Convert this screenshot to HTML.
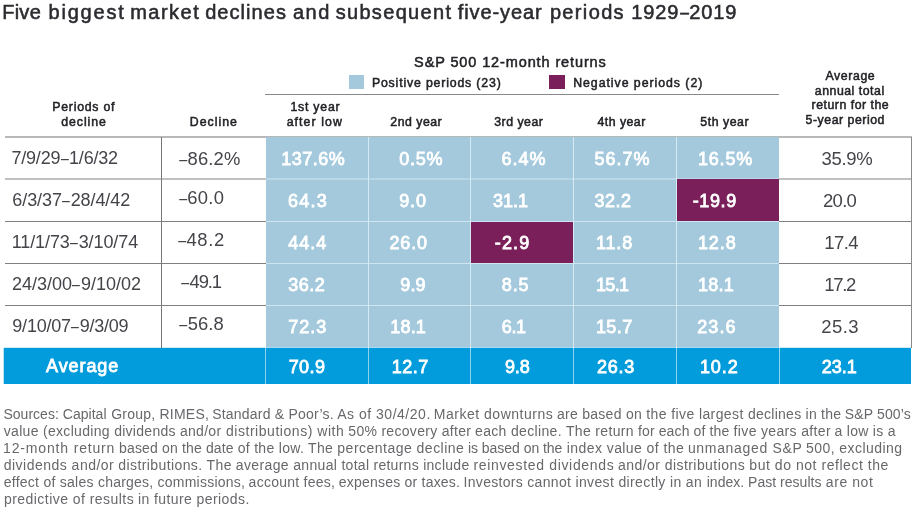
<!DOCTYPE html>
<html lang="en"><head><meta charset='utf-8'><title>Five biggest market declines</title><style>
html,body{margin:0;padding:0;background:#fff;}
body{width:916px;height:510px;position:relative;overflow:hidden;font-family:"Liberation Sans", sans-serif;}
.t{position:absolute;white-space:nowrap;line-height:1;}
.b{position:absolute;}
#page{position:absolute;left:0;top:0;width:916px;height:510px;will-change:transform;}
.d{display:inline-block;transform:scaleX(0.78);letter-spacing:0;margin:0 -0.6px;}
</style></head><body><div id="page">
<div class="b" style="left:5px;top:136px;width:907.00px;height:2.00px;background:#b9b9b9"></div>
<div class="b" style="left:266px;top:137px;width:513.00px;height:211.00px;background:#a4c9dc"></div>
<div class="b" style="left:5px;top:178px;width:261.00px;height:2.00px;background:#c0c0c0"></div>
<div class="b" style="left:779px;top:178px;width:133.00px;height:2.00px;background:#c0c0c0"></div>
<div class="b" style="left:266px;top:178px;width:513.00px;height:2.00px;background:#b9d8e7"></div>
<div class="b" style="left:5px;top:221px;width:261.00px;height:1.00px;background:#808080"></div>
<div class="b" style="left:779px;top:221px;width:133.00px;height:1.00px;background:#808080"></div>
<div class="b" style="left:266px;top:221px;width:513.00px;height:1.00px;background:#cfe6f1"></div>
<div class="b" style="left:5px;top:263px;width:261.00px;height:1.00px;background:#808080"></div>
<div class="b" style="left:779px;top:263px;width:133.00px;height:1.00px;background:#808080"></div>
<div class="b" style="left:266px;top:263px;width:513.00px;height:1.00px;background:#cfe6f1"></div>
<div class="b" style="left:5px;top:305px;width:261.00px;height:1.00px;background:#808080"></div>
<div class="b" style="left:779px;top:305px;width:133.00px;height:1.00px;background:#808080"></div>
<div class="b" style="left:266px;top:305px;width:513.00px;height:1.00px;background:#cfe6f1"></div>
<div class="b" style="left:471px;top:222px;width:102.00px;height:41.00px;background:#7a1f5a"></div>
<div class="b" style="left:677px;top:179px;width:102.00px;height:42.00px;background:#7a1f5a"></div>
<div class="b" style="left:4px;top:347px;width:262.00px;height:1.00px;background:#cdebf8"></div>
<div class="b" style="left:779px;top:347px;width:132.00px;height:1.00px;background:#cdebf8"></div>
<div class="b" style="left:266px;top:347px;width:513.00px;height:1.00px;background:#a6dbf3"></div>
<div class="b" style="left:3px;top:348px;width:908.00px;height:36.00px;background:#029cdc"></div>
<div class="b" style="left:3px;top:348px;width:1.00px;height:36.00px;background:#b3e1f5"></div>
<div class="b" style="left:368px;top:137px;width:1.00px;height:211.00px;background:#d6eaf3"></div>
<div class="b" style="left:368px;top:348px;width:1.00px;height:36.00px;background:#8fd3f0"></div>
<div class="b" style="left:470px;top:137px;width:1.00px;height:211.00px;background:#d6eaf3"></div>
<div class="b" style="left:470px;top:348px;width:1.00px;height:36.00px;background:#8fd3f0"></div>
<div class="b" style="left:573px;top:137px;width:1.00px;height:211.00px;background:#d6eaf3"></div>
<div class="b" style="left:573px;top:348px;width:1.00px;height:36.00px;background:#8fd3f0"></div>
<div class="b" style="left:676px;top:137px;width:1.00px;height:211.00px;background:#d6eaf3"></div>
<div class="b" style="left:676px;top:348px;width:1.00px;height:36.00px;background:#8fd3f0"></div>
<div class="b" style="left:265px;top:348px;width:1.00px;height:36.00px;background:#8fd3f0"></div>
<div class="b" style="left:779px;top:348px;width:1.00px;height:36.00px;background:#8fd3f0"></div>
<div class="b" style="left:161px;top:137px;width:1.00px;height:211.00px;background:#777777"></div>
<div class="b" style="left:911px;top:137px;width:1.00px;height:211.00px;background:#888888"></div>
<div class="b" style="left:265px;top:94px;width:514.00px;height:1.00px;background:#888888"></div>
<div class="b" style="left:349px;top:75px;width:15.00px;height:14.00px;background:#a4c9dc"></div>
<div class="b" style="left:549px;top:75px;width:16.00px;height:14.00px;background:#7a1f5a"></div>
<span class="t" style="font-size:20px;font-weight:normal;color:#2b2b30;letter-spacing:0.275px;-webkit-text-stroke:0.55px #2b2b30;left:2.16px;top:2.00px;">Five</span>
<span class="t" style="font-size:20px;font-weight:normal;color:#2b2b30;letter-spacing:1.814px;-webkit-text-stroke:0.55px #2b2b30;left:48.46px;top:2.00px;">biggest</span>
<span class="t" style="font-size:20px;font-weight:normal;color:#2b2b30;letter-spacing:1.481px;-webkit-text-stroke:0.55px #2b2b30;left:130.21px;top:2.00px;">market</span>
<span class="t" style="font-size:20px;font-weight:normal;color:#2b2b30;letter-spacing:1.060px;-webkit-text-stroke:0.55px #2b2b30;left:205.17px;top:2.00px;">declines</span>
<span class="t" style="font-size:20px;font-weight:normal;color:#2b2b30;letter-spacing:1.548px;-webkit-text-stroke:0.55px #2b2b30;left:292.93px;top:2.00px;">and</span>
<span class="t" style="font-size:20px;font-weight:normal;color:#2b2b30;letter-spacing:1.328px;-webkit-text-stroke:0.55px #2b2b30;left:335.65px;top:2.00px;">subsequent</span>
<span class="t" style="font-size:20px;font-weight:normal;color:#2b2b30;letter-spacing:0.900px;-webkit-text-stroke:0.55px #2b2b30;left:457.81px;top:2.00px;">five-year</span>
<span class="t" style="font-size:20px;font-weight:normal;color:#2b2b30;letter-spacing:1.359px;-webkit-text-stroke:0.55px #2b2b30;left:549.89px;top:2.00px;">periods</span>
<span class="t" style="font-size:20px;font-weight:normal;color:#2b2b30;letter-spacing:0.898px;-webkit-text-stroke:0.55px #2b2b30;left:631.17px;top:2.00px;">1929<span class="d">–</span>2019</span>
<span class="t" style="font-size:14.5px;font-weight:normal;color:#222227;letter-spacing:0.882px;-webkit-text-stroke:0.5px #222227;left:414.12px;top:55.00px;">S&amp;P 500 12-month returns</span>
<span class="t" style="font-size:12.3px;font-weight:normal;color:#222227;letter-spacing:0.838px;-webkit-text-stroke:0.5px #222227;left:371.90px;top:77.00px;">Positive periods (23)</span>
<span class="t" style="font-size:12.3px;font-weight:normal;color:#222227;letter-spacing:0.967px;-webkit-text-stroke:0.5px #222227;left:573.23px;top:77.00px;">Negative periods (2)</span>
<span class="t" style="font-size:12.3px;font-weight:normal;color:#222227;letter-spacing:0.757px;-webkit-text-stroke:0.5px #222227;left:52.27px;top:101.00px;">Periods of</span>
<span class="t" style="font-size:12.3px;font-weight:normal;color:#222227;letter-spacing:0.953px;-webkit-text-stroke:0.5px #222227;left:61.24px;top:116.00px;">decline</span>
<span class="t" style="font-size:12.3px;font-weight:normal;color:#222227;letter-spacing:1.020px;-webkit-text-stroke:0.5px #222227;left:189.84px;top:116.00px;">Decline</span>
<span class="t" style="font-size:12.3px;font-weight:normal;color:#222227;letter-spacing:0.770px;-webkit-text-stroke:0.5px #222227;left:290.46px;top:101.00px;">1st year</span>
<span class="t" style="font-size:12.3px;font-weight:normal;color:#222227;letter-spacing:1.077px;-webkit-text-stroke:0.5px #222227;left:286.70px;top:116.00px;">after low</span>
<span class="t" style="font-size:12.3px;font-weight:normal;color:#222227;letter-spacing:0.497px;-webkit-text-stroke:0.5px #222227;left:390.36px;top:116.00px;">2nd year</span>
<span class="t" style="font-size:12.3px;font-weight:normal;color:#222227;letter-spacing:0.502px;-webkit-text-stroke:0.5px #222227;left:494.27px;top:116.00px;">3rd year</span>
<span class="t" style="font-size:12.3px;font-weight:normal;color:#222227;letter-spacing:0.468px;-webkit-text-stroke:0.5px #222227;left:597.52px;top:116.00px;">4th year</span>
<span class="t" style="font-size:12.3px;font-weight:normal;color:#222227;letter-spacing:0.555px;-webkit-text-stroke:0.5px #222227;left:700.27px;top:116.00px;">5th year</span>
<span class="t" style="font-size:12.3px;font-weight:normal;color:#222227;letter-spacing:0.593px;-webkit-text-stroke:0.5px #222227;left:825.52px;top:70.00px;">Average</span>
<span class="t" style="font-size:12.3px;font-weight:normal;color:#222227;letter-spacing:0.524px;-webkit-text-stroke:0.5px #222227;left:814.81px;top:85.00px;">annual total</span>
<span class="t" style="font-size:12.3px;font-weight:normal;color:#222227;letter-spacing:0.518px;-webkit-text-stroke:0.5px #222227;left:811.54px;top:99.00px;">return for the</span>
<span class="t" style="font-size:12.3px;font-weight:normal;color:#222227;letter-spacing:0.529px;-webkit-text-stroke:0.5px #222227;left:805.61px;top:114.00px;">5-year period</span>
<span class="t" style="font-size:18px;font-weight:normal;color:#44444a;letter-spacing:-0.216px;left:11.51px;top:149.00px;">7/9/29<span class="d">–</span>1/6/32</span>
<span class="t" style="font-size:18px;font-weight:normal;color:#44444a;letter-spacing:-0.085px;left:12.31px;top:191.00px;">6/3/37<span class="d">–</span>28/4/42</span>
<span class="t" style="font-size:18px;font-weight:normal;color:#44444a;letter-spacing:-0.078px;left:11.63px;top:233.00px;">11/1/73<span class="d">–</span>3/10/74</span>
<span class="t" style="font-size:18px;font-weight:normal;color:#44444a;letter-spacing:-0.001px;left:11.99px;top:275.00px;">24/3/00<span class="d">–</span>9/10/02</span>
<span class="t" style="font-size:18px;font-weight:normal;color:#44444a;letter-spacing:-0.220px;left:12.33px;top:317.00px;">9/10/07<span class="d">–</span>9/3/09</span>
<span class="t" style="font-size:18.4px;font-weight:normal;color:#44444a;letter-spacing:0.197px;left:178.42px;top:150.00px;"><span class="d">–</span>86.2%</span>
<span class="t" style="font-size:18.4px;font-weight:normal;color:#44444a;letter-spacing:0.309px;left:178.22px;top:189.00px;"><span class="d">–</span>60.0</span>
<span class="t" style="font-size:18.4px;font-weight:normal;color:#44444a;letter-spacing:0.647px;left:177.42px;top:231.00px;"><span class="d">–</span>48.2</span>
<span class="t" style="font-size:18.4px;font-weight:normal;color:#44444a;letter-spacing:-1.049px;left:180.42px;top:273.00px;"><span class="d">–</span>49.1</span>
<span class="t" style="font-size:18.4px;font-weight:normal;color:#44444a;letter-spacing:-0.014px;left:178.82px;top:315.00px;"><span class="d">–</span>56.8</span>
<span class="t" style="font-size:18px;font-weight:normal;color:#ffffff;letter-spacing:0.457px;-webkit-text-stroke:0.8px #ffffff;left:281.30px;top:150.00px;">137.6%</span>
<span class="t" style="font-size:18px;font-weight:normal;color:#ffffff;letter-spacing:1.259px;-webkit-text-stroke:0.8px #ffffff;left:288.06px;top:192.00px;">64.3</span>
<span class="t" style="font-size:18px;font-weight:normal;color:#ffffff;letter-spacing:1.064px;-webkit-text-stroke:0.8px #ffffff;left:288.17px;top:234.00px;">44.4</span>
<span class="t" style="font-size:18px;font-weight:normal;color:#ffffff;letter-spacing:0.539px;-webkit-text-stroke:0.8px #ffffff;left:288.17px;top:276.00px;">36.2</span>
<span class="t" style="font-size:18px;font-weight:normal;color:#ffffff;letter-spacing:0.947px;-webkit-text-stroke:0.8px #ffffff;left:288.34px;top:318.00px;">72.3</span>
<span class="t" style="font-size:18px;font-weight:normal;color:#ffffff;letter-spacing:0.381px;-webkit-text-stroke:0.8px #ffffff;left:288.73px;top:358.00px;">70.9</span>
<span class="t" style="font-size:18px;font-weight:normal;color:#ffffff;letter-spacing:0.778px;-webkit-text-stroke:0.8px #ffffff;left:399.28px;top:150.00px;">0.5%</span>
<span class="t" style="font-size:18px;font-weight:normal;color:#ffffff;letter-spacing:0.839px;-webkit-text-stroke:0.8px #ffffff;left:399.26px;top:192.00px;">9.0</span>
<span class="t" style="font-size:18px;font-weight:normal;color:#ffffff;letter-spacing:0.867px;-webkit-text-stroke:0.8px #ffffff;left:389.41px;top:234.00px;">26.0</span>
<span class="t" style="font-size:18px;font-weight:normal;color:#ffffff;letter-spacing:0.139px;-webkit-text-stroke:0.8px #ffffff;left:400.31px;top:276.00px;">9.9</span>
<span class="t" style="font-size:18px;font-weight:normal;color:#ffffff;letter-spacing:0.152px;-webkit-text-stroke:0.8px #ffffff;left:390.35px;top:318.00px;">18.1</span>
<span class="t" style="font-size:18px;font-weight:normal;color:#ffffff;letter-spacing:0.565px;-webkit-text-stroke:0.8px #ffffff;left:391.67px;top:358.00px;">12.7</span>
<span class="t" style="font-size:18px;font-weight:normal;color:#ffffff;letter-spacing:1.021px;-webkit-text-stroke:0.8px #ffffff;left:501.40px;top:150.00px;">6.4%</span>
<span class="t" style="font-size:18px;font-weight:normal;color:#ffffff;letter-spacing:0.065px;-webkit-text-stroke:0.8px #ffffff;left:492.88px;top:192.00px;">31.1</span>
<span class="t" style="font-size:18px;font-weight:normal;color:#ffffff;letter-spacing:1.114px;-webkit-text-stroke:0.8px #ffffff;left:494.80px;top:234.00px;">-2.9</span>
<span class="t" style="font-size:18px;font-weight:normal;color:#ffffff;letter-spacing:0.840px;-webkit-text-stroke:0.8px #ffffff;left:501.82px;top:276.00px;">8.5</span>
<span class="t" style="font-size:18px;font-weight:normal;color:#ffffff;letter-spacing:-0.382px;-webkit-text-stroke:0.8px #ffffff;left:501.85px;top:318.00px;">6.1</span>
<span class="t" style="font-size:18px;font-weight:normal;color:#ffffff;letter-spacing:-0.078px;-webkit-text-stroke:0.8px #ffffff;left:504.92px;top:358.00px;">9.8</span>
<span class="t" style="font-size:18px;font-weight:normal;color:#ffffff;letter-spacing:1.018px;-webkit-text-stroke:0.8px #ffffff;left:594.53px;top:150.00px;">56.7%</span>
<span class="t" style="font-size:18px;font-weight:normal;color:#ffffff;letter-spacing:0.487px;-webkit-text-stroke:0.8px #ffffff;left:594.62px;top:192.00px;">32.2</span>
<span class="t" style="font-size:18px;font-weight:normal;color:#ffffff;letter-spacing:0.869px;-webkit-text-stroke:0.8px #ffffff;left:595.91px;top:234.00px;">11.8</span>
<span class="t" style="font-size:18px;font-weight:normal;color:#ffffff;letter-spacing:-0.612px;-webkit-text-stroke:0.8px #ffffff;left:595.91px;top:276.00px;">15.1</span>
<span class="t" style="font-size:18px;font-weight:normal;color:#ffffff;letter-spacing:0.420px;-webkit-text-stroke:0.8px #ffffff;left:595.91px;top:318.00px;">15.7</span>
<span class="t" style="font-size:18px;font-weight:normal;color:#ffffff;letter-spacing:0.755px;-webkit-text-stroke:0.8px #ffffff;left:596.92px;top:358.00px;">26.3</span>
<span class="t" style="font-size:18px;font-weight:normal;color:#ffffff;letter-spacing:0.817px;-webkit-text-stroke:0.8px #ffffff;left:697.91px;top:150.00px;">16.5%</span>
<span class="t" style="font-size:18px;font-weight:normal;color:#ffffff;letter-spacing:0.593px;-webkit-text-stroke:0.8px #ffffff;left:692.77px;top:192.00px;">-19.9</span>
<span class="t" style="font-size:18px;font-weight:normal;color:#ffffff;letter-spacing:0.921px;-webkit-text-stroke:0.8px #ffffff;left:697.91px;top:234.00px;">12.8</span>
<span class="t" style="font-size:18px;font-weight:normal;color:#ffffff;letter-spacing:0.278px;-webkit-text-stroke:0.8px #ffffff;left:697.91px;top:276.00px;">18.1</span>
<span class="t" style="font-size:18px;font-weight:normal;color:#ffffff;letter-spacing:1.129px;-webkit-text-stroke:0.8px #ffffff;left:697.19px;top:318.00px;">23.6</span>
<span class="t" style="font-size:18px;font-weight:normal;color:#ffffff;letter-spacing:0.901px;-webkit-text-stroke:0.8px #ffffff;left:699.91px;top:358.00px;">10.2</span>
<span class="t" style="font-size:18.5px;font-weight:normal;color:#44444a;letter-spacing:-0.339px;left:821.57px;top:150.00px;">35.9%</span>
<span class="t" style="font-size:18.5px;font-weight:normal;color:#44444a;letter-spacing:-0.680px;left:822.93px;top:192.00px;">20.0</span>
<span class="t" style="font-size:18.5px;font-weight:normal;color:#44444a;letter-spacing:-0.569px;left:824.25px;top:234.00px;">17.4</span>
<span class="t" style="font-size:18.5px;font-weight:normal;color:#44444a;letter-spacing:-1.306px;left:824.25px;top:276.00px;">17.2</span>
<span class="t" style="font-size:18.5px;font-weight:normal;color:#44444a;letter-spacing:0.401px;left:821.35px;top:318.00px;">25.3</span>
<span class="t" style="font-size:18px;font-weight:normal;color:#ffffff;letter-spacing:-0.003px;-webkit-text-stroke:0.8px #ffffff;left:821.71px;top:358.00px;">23.1</span>
<span class="t" style="font-size:18px;font-weight:normal;color:#ffffff;letter-spacing:0.920px;-webkit-text-stroke:0.8px #ffffff;left:46.08px;top:357.00px;">Average</span>
<span class="t" style="font-size:14px;font-weight:normal;color:#68686c;letter-spacing:0.026px;left:3.42px;top:407.00px;">Sources: Capital</span>
<span class="t" style="font-size:14px;font-weight:normal;color:#68686c;letter-spacing:0.239px;left:111.13px;top:407.00px;">Group, RIMES,</span>
<span class="t" style="font-size:14px;font-weight:normal;color:#68686c;letter-spacing:0.216px;left:212.21px;top:407.00px;">Standard &amp; Poor’s.</span>
<span class="t" style="font-size:14px;font-weight:normal;color:#68686c;letter-spacing:0.517px;left:337.16px;top:407.00px;">As of 30/4/20.</span>
<span class="t" style="font-size:14px;font-weight:normal;color:#68686c;letter-spacing:0.515px;left:433.77px;top:407.00px;">Market downturns</span>
<span class="t" style="font-size:14px;font-weight:normal;color:#68686c;letter-spacing:0.268px;left:557.06px;top:407.00px;">are based on</span>
<span class="t" style="font-size:14px;font-weight:normal;color:#68686c;letter-spacing:0.406px;left:646.23px;top:407.00px;">the five largest</span>
<span class="t" style="font-size:14px;font-weight:normal;color:#68686c;letter-spacing:0.248px;left:748.06px;top:407.00px;">declines in the</span>
<span class="t" style="font-size:14px;font-weight:normal;color:#68686c;letter-spacing:0.134px;left:844.82px;top:407.00px;">S&amp;P 500’s</span>
<span class="t" style="font-size:14px;font-weight:normal;color:#68686c;letter-spacing:0.304px;left:3.79px;top:424.00px;">value (excluding</span>
<span class="t" style="font-size:14px;font-weight:normal;color:#68686c;letter-spacing:0.282px;left:114.13px;top:424.00px;">dividends and/or</span>
<span class="t" style="font-size:14px;font-weight:normal;color:#68686c;letter-spacing:0.538px;left:225.97px;top:424.00px;">distributions) with</span>
<span class="t" style="font-size:14px;font-weight:normal;color:#68686c;letter-spacing:0.300px;left:348.30px;top:424.00px;">50% recovery after</span>
<span class="t" style="font-size:14px;font-weight:normal;color:#68686c;letter-spacing:0.339px;left:475.03px;top:424.00px;">each decline. The return</span>
<span class="t" style="font-size:14px;font-weight:normal;color:#68686c;letter-spacing:0.120px;left:638.01px;top:424.00px;">for each of the</span>
<span class="t" style="font-size:14px;font-weight:normal;color:#68686c;letter-spacing:0.342px;left:733.61px;top:424.00px;">five years after</span>
<span class="t" style="font-size:14px;font-weight:normal;color:#68686c;letter-spacing:0.296px;left:834.52px;top:424.00px;">a low is a</span>
<span class="t" style="font-size:14px;font-weight:normal;color:#68686c;letter-spacing:0.834px;left:3.11px;top:441.00px;">12-month return</span>
<span class="t" style="font-size:14px;font-weight:normal;color:#68686c;letter-spacing:0.150px;left:119.09px;top:441.00px;">based on the date</span>
<span class="t" style="font-size:14px;font-weight:normal;color:#68686c;letter-spacing:0.314px;left:237.64px;top:441.00px;">of the low. The</span>
<span class="t" style="font-size:14px;font-weight:normal;color:#68686c;letter-spacing:0.482px;left:337.35px;top:441.00px;">percentage decline</span>
<span class="t" style="font-size:14px;font-weight:normal;color:#68686c;letter-spacing:-0.040px;left:467.97px;top:441.00px;">is based on the</span>
<span class="t" style="font-size:14px;font-weight:normal;color:#68686c;letter-spacing:0.418px;left:566.85px;top:441.00px;">index value of the</span>
<span class="t" style="font-size:14px;font-weight:normal;color:#68686c;letter-spacing:0.678px;left:687.88px;top:441.00px;">unmanaged S&amp;P</span>
<span class="t" style="font-size:14px;font-weight:normal;color:#68686c;letter-spacing:0.438px;left:806.04px;top:441.00px;">500, excluding</span>
<span class="t" style="font-size:14px;font-weight:normal;color:#68686c;letter-spacing:0.488px;left:3.71px;top:458.00px;">dividends and/or</span>
<span class="t" style="font-size:14px;font-weight:normal;color:#68686c;letter-spacing:0.401px;left:118.32px;top:458.00px;">distributions. The</span>
<span class="t" style="font-size:14px;font-weight:normal;color:#68686c;letter-spacing:0.350px;left:235.86px;top:458.00px;">average annual</span>
<span class="t" style="font-size:14px;font-weight:normal;color:#68686c;letter-spacing:0.280px;left:341.42px;top:458.00px;">total returns include</span>
<span class="t" style="font-size:14px;font-weight:normal;color:#68686c;letter-spacing:0.665px;left:473.43px;top:458.00px;">reinvested dividends</span>
<span class="t" style="font-size:14px;font-weight:normal;color:#68686c;letter-spacing:0.441px;left:618.03px;top:458.00px;">and/or distributions</span>
<span class="t" style="font-size:14px;font-weight:normal;color:#68686c;letter-spacing:0.543px;left:749.35px;top:458.00px;">but do not reflect the</span>
<span class="t" style="font-size:14px;font-weight:normal;color:#68686c;letter-spacing:0.260px;left:3.69px;top:475.00px;">effect of sales</span>
<span class="t" style="font-size:14px;font-weight:normal;color:#68686c;letter-spacing:0.231px;left:97.91px;top:475.00px;">charges, commissions,</span>
<span class="t" style="font-size:14px;font-weight:normal;color:#68686c;letter-spacing:0.252px;left:248.60px;top:475.00px;">account fees,</span>
<span class="t" style="font-size:14px;font-weight:normal;color:#68686c;letter-spacing:0.219px;left:338.76px;top:475.00px;">expenses or taxes.</span>
<span class="t" style="font-size:14px;font-weight:normal;color:#68686c;letter-spacing:0.306px;left:463.57px;top:475.00px;">Investors cannot</span>
<span class="t" style="font-size:14px;font-weight:normal;color:#68686c;letter-spacing:0.364px;left:575.46px;top:475.00px;">invest directly in an</span>
<span class="t" style="font-size:14px;font-weight:normal;color:#68686c;letter-spacing:0.019px;left:706.73px;top:475.00px;">index. Past results</span>
<span class="t" style="font-size:14px;font-weight:normal;color:#68686c;letter-spacing:0.572px;left:825.80px;top:475.00px;">are not</span>
<span class="t" style="font-size:14px;font-weight:normal;color:#68686c;letter-spacing:0.460px;left:3.90px;top:492.00px;">predictive of results</span>
<span class="t" style="font-size:14px;font-weight:normal;color:#68686c;letter-spacing:0.413px;left:137.97px;top:492.00px;">in future periods.</span>
</div></body></html>
